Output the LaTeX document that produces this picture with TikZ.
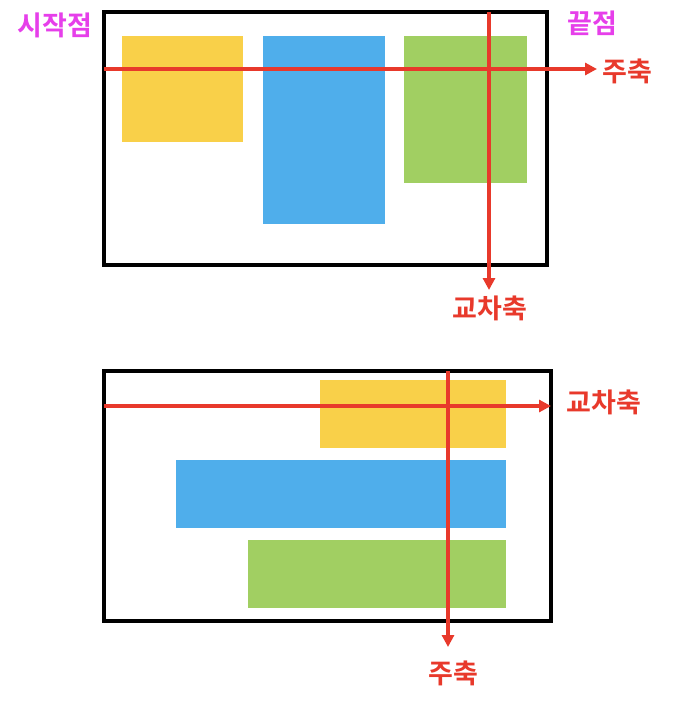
\documentclass[tikz,border=0pt]{standalone}
\usepackage{fontspec}
\newfontfamily\kofont{Noto Sans CJK KR}[BoldFont={Noto Sans CJK KR Bold}]
\usepackage{tikz}
\usetikzlibrary{arrows.meta}
\definecolor{boxyellow}{HTML}{F9D049}
\definecolor{boxblue}{HTML}{4FAEEB}
\definecolor{boxgreen}{HTML}{A1CF62}
\definecolor{axisred}{HTML}{E8392B}
\definecolor{markpink}{HTML}{E63FEA}
\tikzset{
  frame/.style={draw=black, line width=3.2pt},
  axis/.style={draw=axisred, line width=3.2pt, -{Triangle[length=12pt,width=12pt]}},
  axislabel/.style={text=axisred, font=\kofont\bfseries\fontsize{27}{27}\selectfont},
  marklabel/.style={text=markpink, font=\kofont\bfseries\fontsize{27}{27}\selectfont}
}

\begin{document}
\begin{tikzpicture}[x=1pt,y=-1pt]
  \useasboundingbox
    (0,0)
    rectangle
    (674,706);
% row direction
  \fill[boxyellow]
    (122,36)
    rectangle
    (243,142);
  \fill[boxblue]
    (263,36)
    rectangle
    (385,224);
  \fill[boxgreen]
    (404,36)
    rectangle
    (527,183);
  \draw[frame]
    (104,12)
    rectangle
    (547,265);
  \coordinate (rowmainstart) at (104,69);
  \coordinate (rowmainend) at (597,69);
  \coordinate (rowcrossstart) at (489,12);
  \coordinate (rowcrossend) at (489,290);
  \draw[axis]
    (rowmainstart)
    --
    (rowmainend);
  \draw[axis]
    (rowcrossstart)
    --
    (rowcrossend);
  \node[marklabel] (rowstart) at (55,25) {시작점};
  \node[marklabel] (rowend) at (592,23) {끝점};
  \node[axislabel] (rowmain) at (627,71) {주축};
  \node[axislabel] (rowcross) at (490,308) {교차축};
% column direction
  \fill[boxyellow]
    (320,380)
    rectangle
    (506,448);
  \fill[boxblue]
    (176,460)
    rectangle
    (506,528);
  \fill[boxgreen]
    (248,540)
    rectangle
    (506,608);
  \draw[frame]
    (104,371)
    rectangle
    (551,621);
  \coordinate (colcrossstart) at (104,406);
  \coordinate (colcrossend) at (551,406);
  \coordinate (colmainstart) at (448,371);
  \coordinate (colmainend) at (448,647);
  \draw[axis]
    (colcrossstart)
    --
    (colcrossend);
  \draw[axis]
    (colmainstart)
    --
    (colmainend);
  \node[axislabel] (colcross) at (604,402) {교차축};
  \node[axislabel] (colmain) at (453,673) {주축};
\end{tikzpicture}
\end{document}
